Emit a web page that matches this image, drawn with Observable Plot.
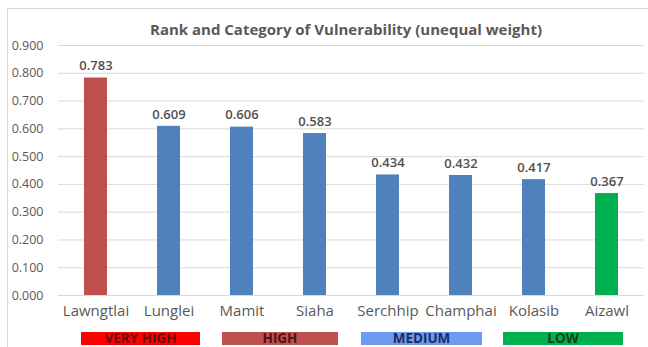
<!DOCTYPE html>
<html>
<head>
<meta charset="utf-8">
<script src="https://cdn.jsdelivr.net/npm/d3@7"></script>
<script src="https://cdn.jsdelivr.net/npm/@observablehq/plot@0.6"></script>
<style>
  html, body { margin: 0; padding: 0; background: #fff; }
  #chart { position: relative; width: 648px; height: 347px; overflow: hidden; background: #fff; font-family: "Open Sans", "Liberation Sans", sans-serif; }
  #frame { position: absolute; left: 7px; top: 8px; width: 700px; height: 400px; border-left: 1px solid #d9d9d9; border-top: 1px solid #d9d9d9; }
  #title { position: absolute; left: 0; width: 692px; top: 19px; text-align: center; font-weight: 700; font-size: 15px; color: #595959; }
  #plot { position: absolute; left: 0; top: 0; }
  .tier { position: absolute; top: 332px; height: 13px; line-height: 13px; text-align: center; font-weight: 700; font-size: 13.5px; }
</style>
</head>
<body>
<div id="chart">
  <div id="frame"></div>
  <div id="title"></div>
  <div id="plot"></div>
  <div id="tiers"></div>
</div>
<script>
// Districts ranked by composite vulnerability index (unequal weights)
const districts = ["Lawngtlai", "Lunglei", "Mamit", "Siaha", "Serchhip", "Champhai", "Kolasib", "Aizawl"];
const scores = [0.783, 0.609, 0.606, 0.583, 0.434, 0.432, 0.417, 0.367];
const barGroup = ["high", "mid", "mid", "mid", "mid", "mid", "mid", "low"];
const yTicks = [0, 0.1, 0.2, 0.3, 0.4, 0.5, 0.6, 0.7, 0.8, 0.9];

// Category bands shown under the axis
const tierNames = ["VERY HIGH", "HIGH", "MEDIUM", "LOW"];
const tierFill = ["#ff0000", "#c0504d", "#6d9bf1", "#00b04f"];
const tierInk = ["#6b0a0a", "#4a1414", "#1f2a5c", "#173f17"];

const title = "Rank and Category of Vulnerability (unequal weight)";

const data = districts.map((d, i) => ({district: d, score: scores[i], group: barGroup[i]}));

const chart = Plot.plot({
  width: 648,
  height: 322,
  marginLeft: 58,
  marginRight: 4,
  marginTop: 45,
  marginBottom: 27,
  style: {fontFamily: "'Open Sans', sans-serif", background: "transparent"},
  x: {domain: districts, paddingInner: 0.69, paddingOuter: 0.345, label: null},
  y: {domain: [0, 0.9], label: null},
  color: {domain: ["high", "mid", "low"], range: ["#c0504d", "#4f81bd", "#00b050"]},
  marks: [
    Plot.gridY(yTicks, {stroke: "#d9d9d9", strokeOpacity: 1}),
    Plot.axisY({ticks: yTicks, tickFormat: d3.format(".3f"), tickSize: 0, tickPadding: 15, fill: "#595959", fontSize: 12.5, label: null}),
    Plot.axisX({tickSize: 0, tickPadding: 10, fill: "#595959", fontSize: 15, label: null}),
    Plot.barY(data, {x: "district", y: "score", fill: "group"}),
    Plot.text(data, {x: "district", y: "score", text: d => d3.format(".3f")(d.score), dy: -12, fill: "#505050", fontWeight: 600, fontSize: 13})
  ]
});

document.getElementById("plot").appendChild(chart);
document.getElementById("title").textContent = title;

// Tier boxes: each spans two district bands, drawn below the axis labels
const xs = chart.scale("x");
const bw = xs.step;
const tiersEl = document.getElementById("tiers");
const insets = [[22, 5], [17, 13], [10, 15], [6, 20]];
tierNames.forEach((name, i) => {
  const bandStart = xs.apply(districts[i * 2]) - (bw - xs.bandwidth) / 2;
  const left = bandStart + insets[i][0];
  const right = bandStart + 2 * bw - insets[i][1];
  const div = document.createElement("div");
  div.className = "tier";
  div.style.left = left + "px";
  div.style.width = (right - left) + "px";
  div.style.background = tierFill[i];
  div.style.color = tierInk[i];
  div.textContent = name;
  tiersEl.appendChild(div);
});
</script>
</body>
</html>
